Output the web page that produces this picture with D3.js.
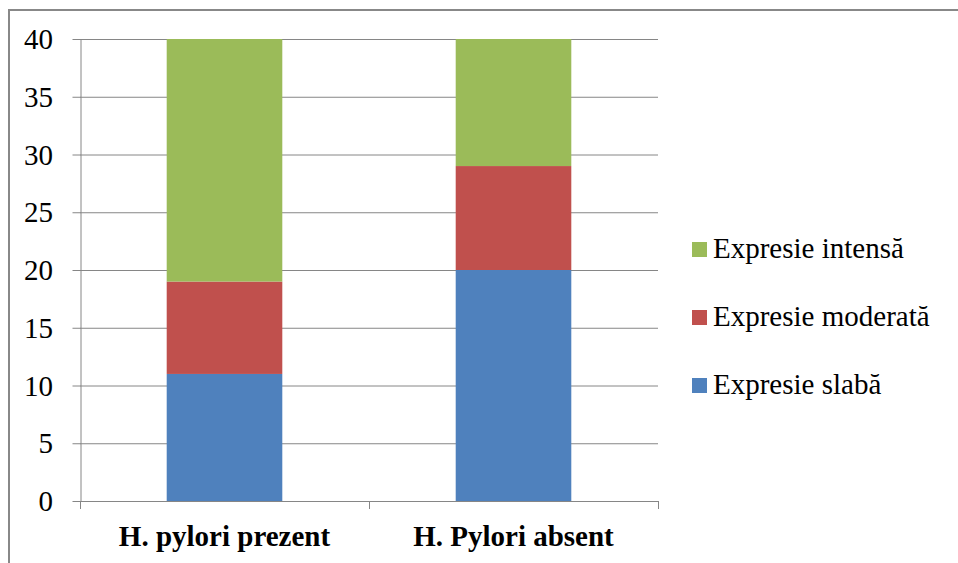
<!DOCTYPE html>
<html>
<head>
<meta charset="utf-8">
<script src="https://cdn.jsdelivr.net/npm/d3@7"></script>
</head>
<body style="margin:0;background:#fff">
<svg id="s" width="958" height="563"></svg>
<script>
// Immunohistochemical expression by H. pylori status
const categories = ["H. pylori prezent", "H. Pylori absent"];
const seriesNames = ["Expresie slabă", "Expresie moderată", "Expresie intensă"];
const slaba = [11, 20];
const moderata = [8, 9];
const intensa = [21, 11];
const yTicks = [0, 5, 10, 15, 20, 25, 30, 35, 40];
const colors = ["#4f81bd", "#c0504d", "#9bbb59"];
const serif = '"Liberation Serif"';
const fontSize = 29;

const svg = d3.select("#s");

// outer frame
svg.append("rect")
  .attr("x", 9).attr("y", 10)
  .attr("width", 970).attr("height", 580)
  .attr("fill", "none").attr("stroke", "#888").attr("stroke-width", 2);

const plot = { left: 80, right: 658, top: 39, bottom: 501 };

const x = d3.scaleBand().domain(categories)
  .range([plot.left, plot.right]).paddingInner(0.6).paddingOuter(0.3);
const band = d3.scaleBand().domain(categories).range([plot.left, plot.right]);
const y = d3.scaleLinear().domain([0, 40]).range([plot.bottom, plot.top]);

// gridlines
svg.append("g").selectAll("line").data(yTicks.filter(t => t > 0)).join("line")
  .attr("x1", plot.left).attr("x2", plot.right)
  .attr("y1", d => y(d) + 0.5).attr("y2", d => y(d) + 0.5)
  .attr("stroke", "#868686").attr("stroke-width", 1);

// stacked data
const rows = categories.map((c, i) => ({
  cat: c,
  [seriesNames[0]]: slaba[i],
  [seriesNames[1]]: moderata[i],
  [seriesNames[2]]: intensa[i]
}));
const stacked = d3.stack().keys(seriesNames)(rows);

svg.append("g").selectAll("g").data(stacked).join("g")
  .attr("fill", (d, i) => colors[i])
  .selectAll("rect").data(d => d).join("rect")
  .attr("x", d => x(d.data.cat))
  .attr("width", x.bandwidth())
  .attr("y", d => y(d[1]))
  .attr("height", d => y(d[0]) - y(d[1]));

// y axis line and ticks
const yAxis = svg.append("g").attr("transform", `translate(${plot.left + 0.5},0)`)
  .call(d3.axisLeft(y).tickValues(yTicks).tickSize(8).tickSizeOuter(0).tickFormat(""));
yAxis.select(".domain").attr("stroke", "#868686");
yAxis.selectAll(".tick line").attr("stroke", "#868686");
yAxis.selectAll(".tick text").remove();

// y tick labels, placed at the root of the svg
svg.selectAll("text.ylab").data(yTicks).join("text").attr("class", "ylab")
  .attr("x", plot.left - 27)
  .attr("y", d => y(d) + 10)
  .attr("text-anchor", "end")
  .attr("font-size", fontSize)
  .style("font-family", serif)
  .attr("fill", "#000")
  .text(d => d);

// x axis with ticks at category boundaries
const bounds = categories.map(c => band(c)).concat([plot.right]);
svg.append("line").attr("x1", plot.left).attr("x2", plot.right)
  .attr("y1", plot.bottom + 0.5).attr("y2", plot.bottom + 0.5)
  .attr("stroke", "#868686");
svg.selectAll("line.xtk").data(bounds).join("line").attr("class", "xtk")
  .attr("x1", d => d + 0.5).attr("x2", d => d + 0.5)
  .attr("y1", plot.bottom).attr("y2", plot.bottom + 8).attr("stroke", "#868686");
svg.selectAll("text.xlab").data(categories).join("text").attr("class", "xlab")
  .attr("x", d => band(d) + band.bandwidth() / 2)
  .attr("y", plot.bottom + 45)
  .attr("text-anchor", "middle")
  .attr("font-size", fontSize)
  .style("font-family", serif)
  .style("font-weight", "bold")
  .attr("fill", "#000")
  .text(d => d);

// legend (top to bottom: intensă, moderată, slabă)
const legendOrder = [2, 1, 0];
svg.selectAll("rect.sw").data(legendOrder).join("rect").attr("class", "sw")
  .attr("x", 692).attr("y", (d, i) => 242 + i * 68)
  .attr("width", 15).attr("height", 15)
  .attr("fill", d => colors[d]);
svg.selectAll("text.leg").data(legendOrder).join("text").attr("class", "leg")
  .attr("x", 713).attr("y", (d, i) => 258 + i * 68)
  .attr("font-size", fontSize)
  .style("font-family", serif)
  .attr("fill", "#000")
  .text(d => seriesNames[d]);
</script>
</body>
</html>
